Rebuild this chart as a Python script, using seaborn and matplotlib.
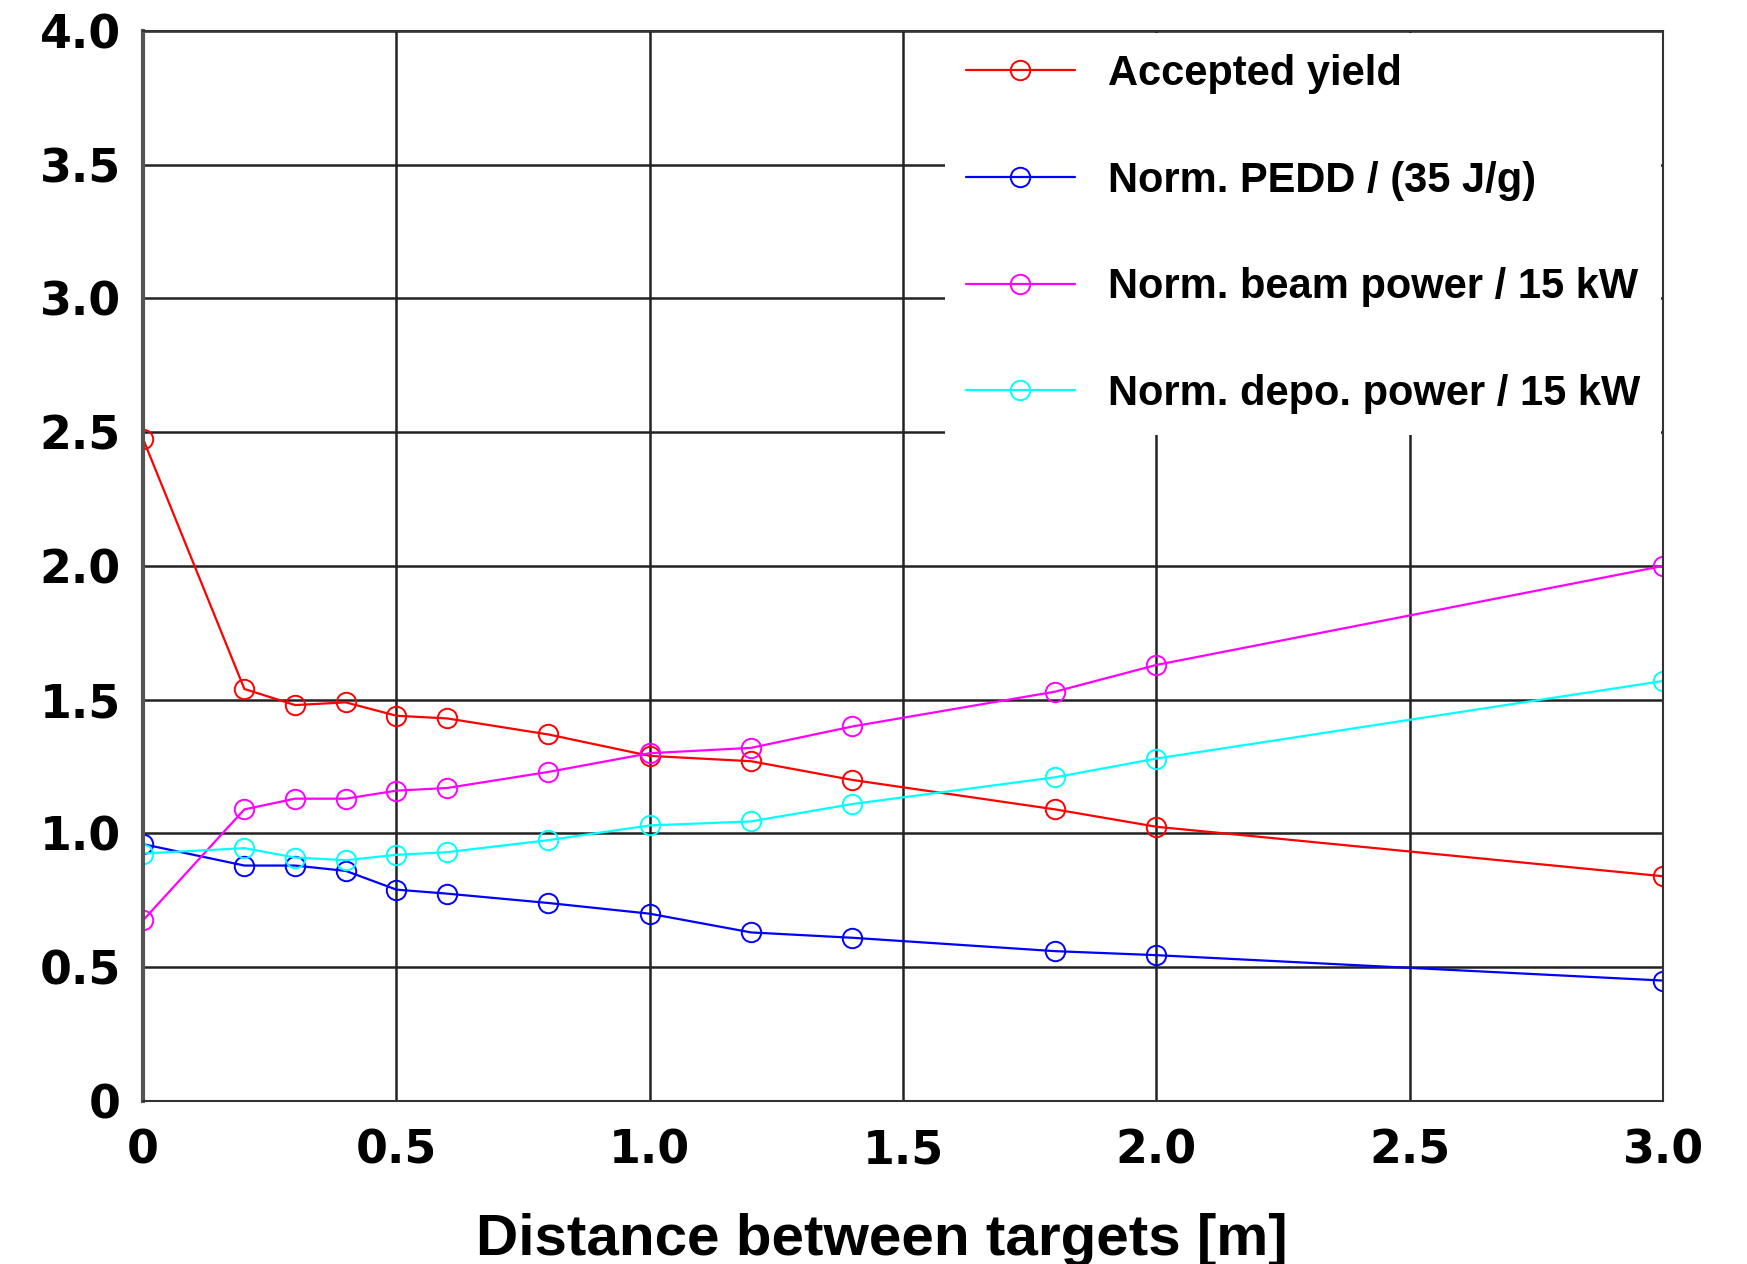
import numpy as np
import pandas as pd
import matplotlib
matplotlib.use('Agg')
import matplotlib.pyplot as plt
import seaborn as sns

# distance between the two targets [m]
distance = [0, 0.2, 0.3, 0.4, 0.5, 0.6, 0.8, 1.0, 1.2, 1.4, 1.8, 2.0, 3.0]

# normalised quantities
accepted_yield = [2.475, 1.54, 1.48, 1.49, 1.44, 1.43, 1.37, 1.29, 1.27, 1.20, 1.09, 1.025, 0.84]
norm_pedd = [0.96, 0.88, 0.88, 0.86, 0.79, 0.775, 0.74, 0.70, 0.63, 0.61, 0.56, 0.545, 0.45]
norm_beam_power = [0.675, 1.09, 1.13, 1.13, 1.16, 1.17, 1.23, 1.30, 1.32, 1.40, 1.53, 1.63, 2.0]
norm_depo_power = [0.925, 0.945, 0.91, 0.90, 0.92, 0.93, 0.975, 1.03, 1.045, 1.11, 1.21, 1.28, 1.57]

labels = ['Accepted yield', 'Norm. PEDD / (35 J/g)',
          'Norm. beam power / 15 kW', 'Norm. depo. power / 15 kW']
colors = ['#ff0000', '#0000ff', '#ff00ff', '#00ffff']
series = [accepted_yield, norm_pedd, norm_beam_power, norm_depo_power]

x_ticks = [0, 0.5, 1.0, 1.5, 2.0, 2.5, 3.0]
x_ticklabels = ['0', '0.5', '1.0', '1.5', '2.0', '2.5', '3.0']
y_ticks = [0, 0.5, 1.0, 1.5, 2.0, 2.5, 3.0, 3.5, 4.0]
y_ticklabels = ['0', '0.5', '1.0', '1.5', '2.0', '2.5', '3.0', '3.5', '4.0']

sns.set_style('white')
plt.rcParams['font.family'] = ['Liberation Sans Narrow', 'Liberation Sans', 'DejaVu Sans']
plt.rcParams['text.color'] = 'black'
plt.rcParams['axes.labelcolor'] = 'black'
plt.rcParams['xtick.color'] = 'black'
plt.rcParams['ytick.color'] = 'black'

fig = plt.figure(figsize=(17.47, 12.64), dpi=100)
ax = fig.add_axes([0.0819, 0.129, 0.952 - 0.0819, 0.9755 - 0.129])

for lab, col, vals in zip(labels, colors, series):
    df = pd.DataFrame({'x': distance, 'y': vals})
    sns.lineplot(data=df, x='x', y='y', ax=ax, color=col, lw=1.6,
                 marker='o', markersize=14, markerfacecolor='none',
                 markeredgecolor=col, markeredgewidth=1.4, label=lab)

ax.set_xlim(0, 3.0)
ax.set_ylim(0, 4.0)
ax.set_xticks(x_ticks)
ax.set_xticklabels(x_ticklabels, family='DejaVu Sans', fontweight='bold', fontsize=33)
ax.set_yticks(y_ticks)
ax.set_yticklabels(y_ticklabels, family='DejaVu Sans', fontweight='bold', fontsize=33)
ax.tick_params(axis='x', length=0, pad=20)
ax.tick_params(axis='y', length=0, pad=16)
ax.grid(True, color='#222222', lw=1.8)
ax.set_axisbelow(True)
for s in ax.spines.values():
    s.set_color('#333333')
    s.set_linewidth(1.5)
ax.spines['left'].set_linewidth(3)
ax.spines['left'].set_color('#555555')

ax.set_xlabel('Distance between targets [m]', fontsize=42, fontweight='bold')
ax.xaxis.set_label_coords(0.486, -0.105)
ax.set_ylabel('')

leg = ax.legend(loc='upper right', bbox_to_anchor=(1.0, 1.0), borderaxespad=0.05,
                prop={'family': ['Liberation Sans Narrow', 'Liberation Sans'], 'weight': 'bold', 'size': 30},
                frameon=True, fancybox=False, framealpha=1.0, edgecolor='white',
                handlelength=2.6, handletextpad=0.8, labelspacing=1.6, borderpad=0.5)
leg.get_frame().set_linewidth(0)

fig.savefig('out.png', dpi=100)
